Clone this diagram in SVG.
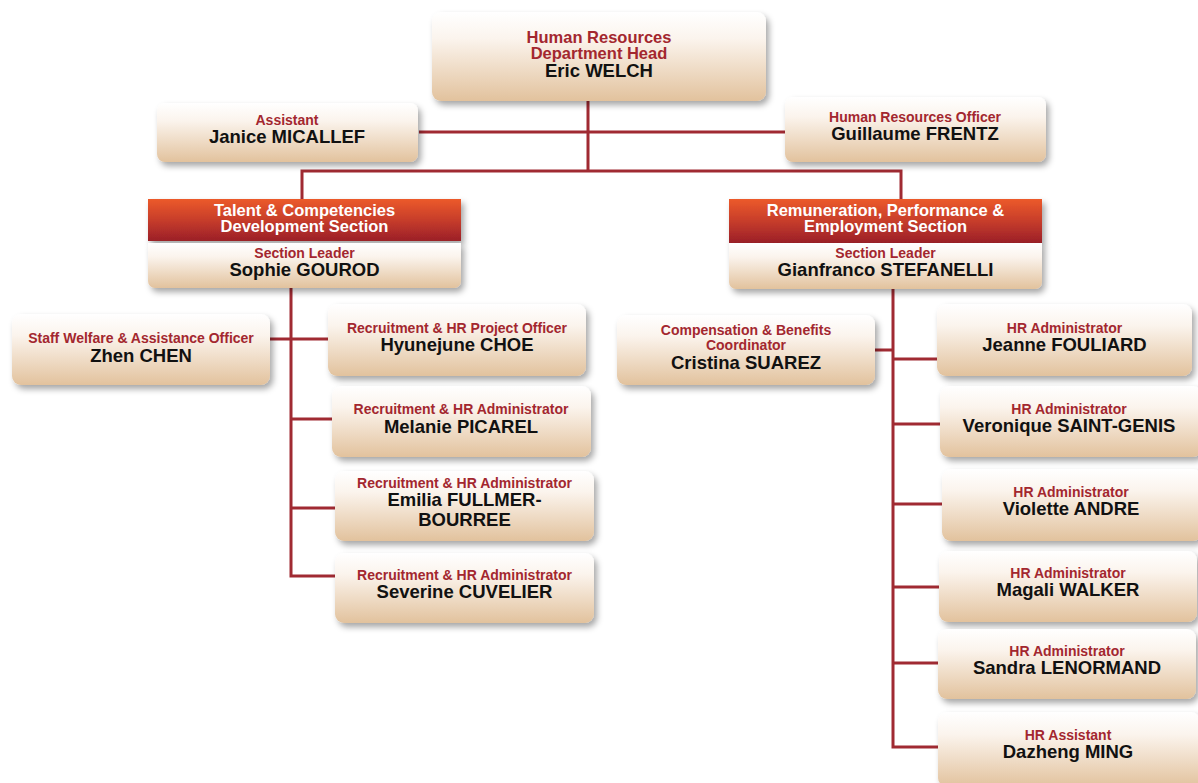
<svg xmlns="http://www.w3.org/2000/svg" width="1198" height="783" viewBox="0 0 1198 783">
<style>
.box{fill:url(#bg);filter:url(#sh)}
.hdr{fill:url(#hg);filter:url(#sh)}
.t{font-family:"Liberation Sans",Arial,sans-serif;font-weight:bold;font-size:14px;fill:#a3272f;text-anchor:middle}
.n{font-family:"Liberation Sans",Arial,sans-serif;font-weight:bold;font-size:18.5px;fill:#111;text-anchor:middle}
.h{font-family:"Liberation Sans",Arial,sans-serif;font-weight:bold;font-size:16.5px;fill:#fff;text-anchor:middle}
.ht{font-size:16.5px}
.c{stroke:#a02a32;stroke-width:3;fill:none}
</style>
<defs>
<linearGradient id="bg" x1="0" y1="0" x2="0" y2="1">
<stop offset="0" stop-color="#ffffff"/>
<stop offset="0.3" stop-color="#fbf4ed"/>
<stop offset="1" stop-color="#e2c29d"/>
</linearGradient>
<linearGradient id="hg" x1="0" y1="0" x2="0" y2="1">
<stop offset="0" stop-color="#ec5a2b"/>
<stop offset="0.5" stop-color="#c73d2a"/>
<stop offset="1" stop-color="#9b1f28"/>
</linearGradient>
<filter id="sh" x="-10%" y="-20%" width="125%" height="150%">
<feDropShadow dx="3" dy="4" stdDeviation="3" flood-color="#000" flood-opacity="0.35"/>
</filter>
</defs>
<rect width="1198" height="783" fill="#fff"/>
<g id="connectors">
<path class="c" d="M588 101V171M419 132H785M302 199V171H901V199"/>
<path class="c" d="M291 288V576H335M270 339H328M291 419H332M291 508H335"/>
<path class="c" d="M893 289V747H938M875 350H893M893 359H937M893 424H940M893 504H942M893 587H939M893 663H938"/>
</g>
<g id="head">
<rect class="box" x="432" y="12" width="334" height="89" rx="9"/>
<text class="t ht" x="599" y="43">Human Resources</text>
<text class="t ht" x="599" y="59">Department Head</text>
<text class="n" x="599" y="77">Eric WELCH</text>
</g>
<g id="assistant">
<rect class="box" x="157" y="103" width="261" height="59" rx="8"/>
<text class="t" x="287" y="125">Assistant</text>
<text class="n" x="287" y="143">Janice MICALLEF</text>
</g>
<g id="hr-officer">
<rect class="box" x="785" y="97" width="261" height="65" rx="8"/>
<text class="t" x="915" y="122">Human  Resources Officer</text>
<text class="n" x="915" y="140">Guillaume FRENTZ</text>
</g>
<g id="talent-section">
<rect class="hdr" x="148" y="199" width="313" height="42"/>
<text class="h" x="304.5" y="216">Talent &amp; Competencies</text>
<text class="h" x="304.5" y="232">Development Section</text>
</g>
<g id="sophie">
<path class="box" d="M148 243H461V281A7 7 0 0 1 454 288H155A7 7 0 0 1 148 281Z"/>
<text class="t" x="304.5" y="258">Section Leader</text>
<text class="n" x="304.5" y="276">Sophie GOUROD</text>
</g>
<g id="remuneration-section">
<rect class="hdr" x="729" y="199" width="313" height="44"/>
<text class="h" x="885.5" y="216">Remuneration, Performance &amp;</text>
<text class="h" x="885.5" y="232">Employment Section</text>
</g>
<g id="gianfranco">
<path class="box" d="M729 243H1042V282A7 7 0 0 1 1035 289H736A7 7 0 0 1 729 282Z"/>
<text class="t" x="885.5" y="258">Section Leader</text>
<text class="n" x="885.5" y="276">Gianfranco STEFANELLI</text>
</g>
<g id="zhen">
<rect class="box" x="12" y="314" width="258" height="71" rx="9"/>
<text class="t" x="141" y="343">Staff Welfare &amp; Assistance Officer</text>
<text class="n" x="141" y="362">Zhen CHEN</text>
</g>
<g id="hyunejune">
<rect class="box" x="328" y="304" width="258" height="72" rx="9"/>
<text class="t" x="457" y="333">Recruitment &amp; HR Project Officer</text>
<text class="n" x="457" y="351">Hyunejune CHOE</text>
</g>
<g id="melanie">
<rect class="box" x="332" y="386" width="259" height="71" rx="9"/>
<text class="t" x="461" y="414">Recruitment &amp; HR Administrator</text>
<text class="n" x="461" y="433">Melanie PICAREL</text>
</g>
<g id="emilia">
<rect class="box" x="335" y="471" width="259" height="70" rx="9"/>
<text class="t" x="464.5" y="488">Recruitment &amp; HR Administrator</text>
<text class="n" x="464.5" y="506">Emilia FULLMER-</text>
<text class="n" x="464.5" y="526">BOURREE</text>
</g>
<g id="severine">
<rect class="box" x="335" y="553" width="259" height="70" rx="9"/>
<text class="t" x="464.5" y="580">Recruitment &amp; HR Administrator</text>
<text class="n" x="464.5" y="598">Severine CUVELIER</text>
</g>
<g id="cristina">
<rect class="box" x="617" y="315" width="258" height="70" rx="9"/>
<text class="t" x="746" y="335">Compensation &amp; Benefits</text>
<text class="t" x="746" y="350">Coordinator</text>
<text class="n" x="746" y="369">Cristina SUAREZ</text>
</g>
<g id="jeanne">
<rect class="box" x="937" y="304" width="255" height="72" rx="9"/>
<text class="t" x="1064.5" y="333">HR Administrator</text>
<text class="n" x="1064.5" y="351">Jeanne FOULIARD</text>
</g>
<g id="veronique">
<rect class="box" x="940" y="386" width="262" height="71" rx="9"/>
<text class="t" x="1069" y="414">HR Administrator</text>
<text class="n" x="1069" y="432">Veronique SAINT-GENIS</text>
</g>
<g id="violette">
<rect class="box" x="942" y="469" width="260" height="72" rx="9"/>
<text class="t" x="1071" y="497">HR Administrator</text>
<text class="n" x="1071" y="515">Violette ANDRE</text>
</g>
<g id="magali">
<rect class="box" x="939" y="551" width="258" height="71" rx="9"/>
<text class="t" x="1068" y="578">HR Administrator</text>
<text class="n" x="1068" y="596">Magali WALKER</text>
</g>
<g id="sandra">
<rect class="box" x="938" y="629" width="258" height="70" rx="9"/>
<text class="t" x="1067" y="656">HR Administrator</text>
<text class="n" x="1067" y="674">Sandra LENORMAND</text>
</g>
<g id="dazheng">
<rect class="box" x="938" y="712" width="262" height="75" rx="9"/>
<text class="t" x="1068" y="740">HR Assistant</text>
<text class="n" x="1068" y="758">Dazheng MING</text>
</g>
</svg>
